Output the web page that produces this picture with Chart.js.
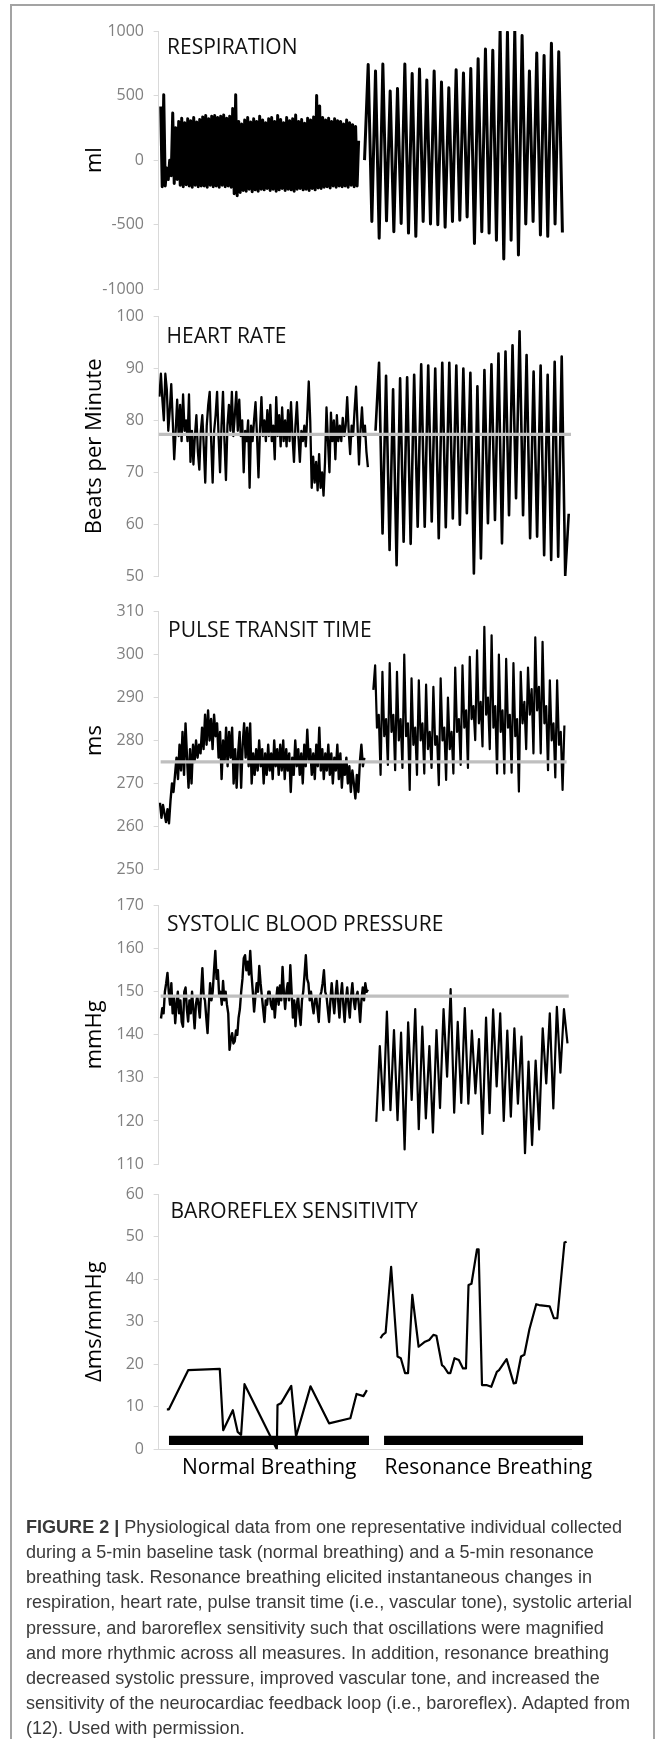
<!DOCTYPE html>
<html>
<head>
<meta charset="utf-8">
<script src="https://cdn.jsdelivr.net/npm/chart.js@4.4.1/dist/chart.umd.min.js"></script>
<style>
html,body{margin:0;padding:0;background:#fff;}
body{width:663px;height:1739px;position:relative;overflow:hidden;font-family:"Open Sans",sans-serif;}
#frame{position:absolute;left:10.4px;top:4px;width:645px;height:1800px;box-sizing:border-box;border:2px solid #a3a3a3;border-bottom:none;}
canvas{position:absolute;left:0;}
.ptitle{position:absolute;font-family:"Open Sans",sans-serif;font-size:21px;line-height:1;color:#111;white-space:nowrap;}
#caption{position:absolute;left:26.3px;top:1513.7px;font-family:"Liberation Sans",Arial,sans-serif;font-size:18.5px;line-height:25.2px;color:#3a3a3a;white-space:nowrap;transform-origin:0 0;}
#caption div{white-space:nowrap;}
#caption span.l{display:inline-block;}
</style>
</head>
<body>
<div id="frame"></div>
<canvas id="c1"></canvas>
<canvas id="c2"></canvas>
<canvas id="c3"></canvas>
<canvas id="c4"></canvas>
<canvas id="c5"></canvas>
<div class="ptitle" style="left:167px;top:36.4px;">RESPIRATION</div>
<div class="ptitle" style="left:166.5px;top:325.4px;">HEART RATE</div>
<div class="ptitle" style="left:168px;top:619.1px;">PULSE TRANSIT TIME</div>
<div class="ptitle" style="left:167px;top:913.1px;">SYSTOLIC BLOOD PRESSURE</div>
<div class="ptitle" style="left:170.5px;top:1199.7px;">BAROREFLEX SENSITIVITY</div>
<div id="caption">
<div><span class="l" id="cap1"><b>FIGURE 2 |</b> Physiological data from one representative individual collected</span></div>
<div>during a 5-min baseline task (normal breathing) and a 5-min resonance</div>
<div>breathing task. Resonance breathing elicited instantaneous changes in</div>
<div>respiration, heart rate, pulse transit time (i.e., vascular tone), systolic arterial</div>
<div>pressure, and baroreflex sensitivity such that oscillations were magnified</div>
<div>and more rhythmic across all measures. In addition, resonance breathing</div>
<div>decreased systolic pressure, improved vascular tone, and increased the</div>
<div>sensitivity of the neurocardiac feedback loop (i.e., baroreflex). Adapted from</div>
<div>(12). Used with permission.</div>
</div>
<script>
// ---------- DATA (time axis in seconds, 0-600) ----------
const respTicks = [-1000, -500, 0, 500, 1000];
const hrTicks = [50, 60, 70, 80, 90, 100];
const pttTicks = [250, 260, 270, 280, 290, 300, 310];
const sbpTicks = [110, 120, 130, 140, 150, 160, 170];
const brsTicks = [0, 10, 20, 30, 40, 50, 60];

const respNormalSpan = [3.1, 291.0];
const respResonanceSpan = [299.6, 587.5];
const respNormal = [415,-205,506,-200,-60,-150,0,-120,365,-180,250,-150,
300,-195,325,-205,290,-190,320,-200,305,-210,330,-195,295,-205,315,-200,
335,-200,345,-210,320,-195,340,-205,345,-200,330,-210,340,-195,350,-205,325,-200,340,-210,
400,-260,506,-275,
300,-250,280,-235,310,-240,330,-225,295,-245,320,-230,300,-240,340,-225,
310,-230,290,-220,320,-235,330,-225,300,-240,345,-230,315,-220,290,-235,330,-225,305,-230,320,-240,350,-225,300,-220,315,-230,285,-225,325,-235,310,-220,335,-230,
500,-215,420,-220,
330,-210,310,-205,325,-215,300,-200,320,-210,305,-200,
300,-205,280,-200,310,-210,290,-195,275,-205,260,-200,
150];
const respResonance = [0,740,-475,690,-605,745,-470,535,-555,555,-490,745,-565,670,-590,705,-475,620,-495,690,-500,605,-520,560,-475,700,-465,675,-440,710,-645,785,-555,860,-565,850,-620,1005,-765,990,-620,1005,-735,965,-495,690,-475,830,-580,810,-590,905,-495,840,-560];

const hrNormalSpan = [1.2, 304.5];
const hrResonanceSpan = [315.6, 596.7];
const hrNormal = [84.6,89,84,80,89,86,78,82,87,80,72.5,78,84,77,83,76,85,78,80,76,85,72,78,71.5,77,81,74,70.5,78,81,75,68,79,83,85.5,76,68,78,81,85.5,77,70,79,85.5,76,68.5,79,83,78,85.5,77,81,85.5,78,84,77,80,70,78,76,80,67,79,76,80,83.5,77,69,78,84.5,77,80,76,82,77,83,76,79,72.5,84.5,77,81,75,82.5,76,80,75,82,76,83.5,77,72,79,83.5,77,72,78,76,79,75,81,87.5,80,67,73,68,72,66.5,73.5,67,70,65.5,72,82.5,76,70,81.5,76,80,72.5,81,76,79,76,80.5,77,79,84.5,78,73.5,79,77,82,86.5,79,71.5,78,82.5,77,79,74,71];
const hrResonance = [78,91.1,58.2,88.6,55.0,86.0,52.1,88.1,56.6,88.3,56.2,88.8,59.5,90.8,59.5,90.6,60.5,90.0,57.3,91.1,59.4,91.1,61.1,90.6,59.9,90.0,62.1,89.2,50.5,86.6,53.4,89.7,60.2,90.8,60.8,92.9,56.3,93.3,61.7,94.5,65.0,97.2,61.7,92.6,57.3,89.4,57.6,90.6,54.0,88.8,53.1,91.3,53.7,92.3,50.0,62];
const hrReference = 77.3;
const hrReferenceSpan = [0, 600];

const pttNormalSpan = [2.0, 299.4];
const pttResonanceSpan = [312.4, 590.4];
const pttNormal = [265.5,262,265,263,261,264,260.7,266,270,268,272,276,271,279,273,282,272,284,276,269,278,270,279,275,280,276,279,277,283,278,286,279,287,280,285,278,286,281,284,276,282,271,280,275,283,274,282,276,283,270,278,269,277,282,269,279,284,276,283,274,284,270,277,272,278,273,280,274,278,270,277,272,279,273,277,271,280,274,278,272,279,273,280,271,278,273,277,268,276,272,280,274,278,272,277,270,279,274,282.5,275,278,272,277,271,279,274,283,273,278,271,277,273,279,272,277,270,276,273,279,271,277,269,275,272,276,270,274,268,273,270,266.5,272,268,275,279,274,276];
const pttResonance = [291.8,
297.5,283,286,272, 296,281,285,274.3, 298,282,286,273.1, 296,280,285,273.6, 300,281,284,268.5,
294.5,279,283,272, 294,280,284,272.3, 293,278,282,273.6, 292.5,279,281,269.6, 294.5,280,283,270.8,
290,278,282,272.3, 297,282,285,274.3, 297.5,283,287,273.6, 299.5,285,288,280.1, 301,284,289,278.6,
306.5,286,290,278, 304.5,283,288,272.3, 300,282,287,272.3, 299,283,286,272.5, 298,281,285,268.1,
296,284,289,278, 297,286,292,277, 304,287,292.5,277, 303,284,288,273.1, 294,280,284,271.4,
294,279,282,268.5, 283.5];
const pttReference = 275;
const pttReferenceSpan = [3, 593.6];

const sbpNormalSpan = [3.5, 304.5];
const sbpResonanceSpan = [316.7, 594.9];
const sbpNormal = [143.8,146.2,145,150,152,154.4,150,147,152,145,149,142.7,147,150,145,148,143,141.9,150,151,146,143.1,148,145,150,146,141.5,147,149,147,144,150,155.5,149,148,144,140.4,147,152,148,150,155,159.5,153,155,149,150,147,152.5,148,150,147,145,136.5,139,140.4,138,138.5,141,140,144,146,150,153,157.8,158.5,155,157,154,159.5,154,150,145.4,149,152,150,156,152,149,146,143,148,147,150,150,147,146,149,144,148,151,147,151.5,148,155.8,150,146,150,152,148,156.2,150,144,148,142,147,149,145,142.3,148,150,154,158.5,153,152,148,150,147,145,148,149,146,143,149,150,152,155,150,149,146,143,148,152,148,145,149,152.5,148,144,149,152,147,143,148,151,147,144,149,152,148,146,149,150,147,143,148,151,148,152,150,150.5];
const sbpResonance = [119.8,137.4,122.5,145.4,122.5,141.1,120.2,140.5,113.4,142.9,124.9,146,118.1,141.9,120.6,137.4,117.3,141.1,123,146,130.3,150.6,121.9,143,124.2,146.2,124,141,126.4,139,117,144,121.8,145.9,128,145,120,141,121,141.5,124,139.6,112.5,133.8,114.4,134,118,141.5,128.7,145,122.9,146.5,131.2,146,138];
const sbpReference = 149;
const sbpReferenceSpan = [3, 596.7];

const brsNormalTime = [12,15,43,89,94,108,115,120,125,172,173,178,193,200,221,248,279,288,298,303];
const brsNormal = [9.4,9.4,18.6,18.9,4.5,9.2,4.1,3.4,15.3,0,10.4,10.8,14.9,3.0,14.8,6.1,7.3,13.0,12.5,13.9];
const brsResonanceTime = [322.8,326,330.3,338.3,347.6,352.4,358.6,362.9,369.1,378.3,387.6,393.7,399.8,404.2,412.2,415.2,421.3,424.4,430.5,436.8,442.9,447.2,450.9,455.2,463.2,465.6,470.5,476.8,484,492.1,495.3,506.3,516.6,519.8,527.3,532.1,539.5,549.4,553.6,569,575.1,580.1,590.5,593.6];
const brsResonance = [26.1,26.9,27.4,42.9,21.8,21.4,17.9,17.9,36.3,24.1,25.3,25.7,26.9,26.7,19.8,19.4,17.9,17.9,21.4,21.0,19.0,19.0,38.6,38.9,47.0,47.0,15.1,15.1,14.7,18.2,18.6,21.2,15.5,15.6,21.8,22.2,28.2,34.1,33.9,33.6,30.8,30.8,48.6,48.8];
const brsCategories = ["Normal Breathing", "Resonance Breathing"];
const brsCategoryTime = [160.9, 479.8];
const brsBarSpans = [[15.1, 306.1], [328, 617.5]];
const brsBarLevel = 2.1;

// ---------- LAYOUT ----------
const AXIS_X = 158.6, AREA_RIGHT = 571, PAD_LEFT = 81.8, CW = 663;
const CAT_PAD = 6.3;

function series(values, span) {
  const n = values.length;
  return values.map((v, i) => ({x: span[0] + (span[1] - span[0]) * i / (n - 1), y: v}));
}
function pairsXY(times, values) { return times.map((t, i) => ({x: t, y: values[i]})); }
function flat(level, span) { return [{x: span[0], y: level}, {x: span[1], y: level}]; }
function ds(points, width, color, order, extra) {
  return Object.assign({data: points, borderColor: color, backgroundColor: color, borderWidth: width,
    pointRadius: 0, borderJoinStyle: 'round', borderCapStyle: 'butt', fill: false, tension: 0, order: order}, extra || {});
}

function makePanel(id, areaTop, areaBottom, ticks, yTitle, datasets, xCats) {
  const canvas = document.getElementById(id);
  const top = Math.floor(areaTop) - 20;
  const xAxisH = xCats ? (21 * 1.2 + 2 * CAT_PAD) : 0;
  const h = Math.ceil(areaBottom) + 20 + (xCats ? 50 : 0) - top;
  canvas.width = CW; canvas.height = h;
  canvas.style.width = CW + 'px'; canvas.style.height = h + 'px';
  canvas.style.top = top + 'px';
  const padTop = areaTop - top;
  const padBottom = h - (areaBottom - top) - xAxisH;
  const xScale = xCats ? {
    type: 'linear', min: 0, max: 600, display: true,
    afterBuildTicks: s => { s.ticks = xCats.pos.map(v => ({value: v})); },
    ticks: {autoSkip: false, maxRotation: 0, minRotation: 0, padding: CAT_PAD, color: '#000',
      font: {family: 'Open Sans', size: 21}, callback: (v, i) => xCats.labels[i]},
    grid: {display: true, drawOnChartArea: false, drawTicks: false, color: '#d9d9d9'},
    border: {display: true, color: '#d9d9d9', width: 1}
  } : {type: 'linear', min: 0, max: 600, display: false};
  new Chart(canvas, {
    type: 'line',
    data: {datasets: datasets},
    options: {
      responsive: false, animation: false, devicePixelRatio: 1,
      layout: {padding: {left: PAD_LEFT, right: CW - AREA_RIGHT, top: padTop, bottom: padBottom}},
      plugins: {legend: {display: false}, tooltip: {enabled: false}, title: {display: false}},
      elements: {point: {radius: 0}},
      scales: {
        x: xScale,
        y: {
          type: 'linear', min: ticks[0], max: ticks[ticks.length - 1],
          afterBuildTicks: s => { s.ticks = ticks.map(v => ({value: v})); },
          afterFit: s => { s.width = AXIS_X - PAD_LEFT; },
          ticks: {color: '#808080', font: {family: 'Open Sans', size: 16}, padding: 9.6, callback: v => String(v)},
          grid: {display: true, drawOnChartArea: false, drawTicks: true, tickLength: 5, color: '#d9d9d9', tickColor: '#d9d9d9'},
          border: {display: true, color: '#d9d9d9', width: 1},
          title: {display: true, text: yTitle, color: '#000', font: {family: 'Open Sans', size: 22}, padding: 0}
        }
      }
    }
  });
}

const REF = '#bfbfbf';
makePanel('c1', 31, 289.3, respTicks, 'ml', [
  ds(series(respNormal, respNormalSpan), 3, '#000', 1),
  ds(series(respResonance, respResonanceSpan), 3, '#000', 1)
]);
makePanel('c2', 316.7, 576, hrTicks, 'Beats per Minute', [
  ds(flat(hrReference, hrReferenceSpan), 3.3, REF, 0),
  ds(series(hrNormal, hrNormalSpan), 2.3, '#000', 1),
  ds(series(hrResonance, hrResonanceSpan), 2.6, '#000', 1)
]);
makePanel('c3', 611.7, 869.3, pttTicks, 'ms', [
  ds(flat(pttReference, pttReferenceSpan), 3.3, REF, 0),
  ds(series(pttNormal, pttNormalSpan), 2.4, '#000', 1),
  ds(series(pttResonance, pttResonanceSpan), 2.2, '#000', 1)
]);
makePanel('c4', 905.7, 1164, sbpTicks, 'mmHg', [
  ds(flat(sbpReference, sbpReferenceSpan), 3.3, REF, 0),
  ds(series(sbpNormal, sbpNormalSpan), 2.4, '#000', 1),
  ds(series(sbpResonance, sbpResonanceSpan), 2.2, '#000', 1)
]);
makePanel('c5', 1194, 1449.3, brsTicks, '\u0394ms/mmHg', [
  ds(pairsXY(brsNormalTime, brsNormal), 2.2, '#000', 1),
  ds(pairsXY(brsResonanceTime, brsResonance), 2.2, '#000', 1),
  ds(flat(brsBarLevel, brsBarSpans[0]), 9.3, '#000', 2, {clip: false}),
  ds(flat(brsBarLevel, brsBarSpans[1]), 9.3, '#000', 2, {clip: false})
], {pos: brsCategoryTime, labels: brsCategories});

// caption horizontal fit
(function () {
  const cap = document.getElementById('caption');
  const w = document.getElementById('cap1').getBoundingClientRect().width;
  const k = 596 / w;
  cap.style.transform = 'scaleX(' + k + ')';
})();
</script>
</body>
</html>
